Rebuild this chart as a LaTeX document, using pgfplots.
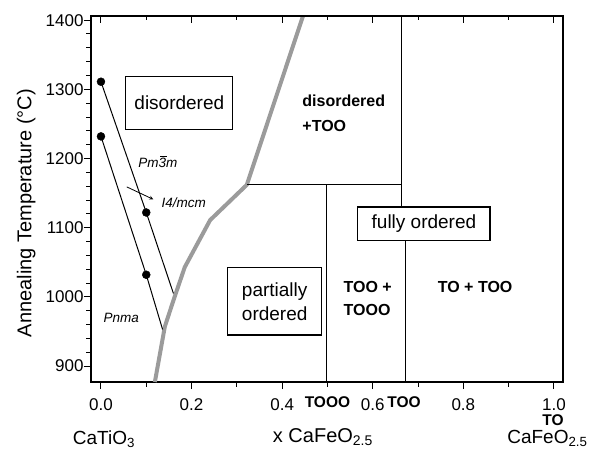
\documentclass[border=0pt]{standalone}
\usepackage{pgfplots}
\pgfplotsset{compat=1.18}
\usepackage{fontspec}
\setmainfont{Liberation Sans}
\definecolor{phasegray}{RGB}{155,155,155}
\newcommand{\fs}[1]{\fontsize{#1bp}{1.2\dimexpr#1bp\relax}\selectfont}
\newcommand{\barthree}{\rlap{\kern0.12em\raisebox{0.8em}{\rule{0.46em}{0.07em}}}3}
\begin{document}
\begin{tikzpicture}
\begin{axis}[
    scale only axis, width=472bp, height=366bp,
    xmin=-0.022, xmax=1.02, ymin=877, ymax=1406,
    clip=false,
    axis line style={line width=1.3bp},
    xtick={0,0.2,0.4,0.6,0.8,1.0},
    xticklabels={0.0,0.2,0.4,0.6,0.8,1.0},
    minor x tick num=1,
    ytick={900,1000,...,1400},
    minor y tick num=4,
    xtick pos=bottom, ytick pos=left,
    tick align=outside,
    major tick length=7bp, minor tick length=4.5bp,
    tick style={black, line width=1bp},
    tick label style={font=\fs{17}},
    /pgf/number format/assume math mode=true,
    /pgf/number format/1000 sep={},
    xticklabel style={yshift=-6bp},
    yticklabel style={xshift=3bp},
  ]
  \coordinate (sw) at (rel axis cs:0,0);
  \coordinate (ne) at (rel axis cs:1,1);

  % order-disorder boundary (grey)
  \addplot[color=phasegray, line width=4bp, line join=round] coordinates {
    (0.119,877) (0.141,957) (0.160,995) (0.185,1043)
    (0.241,1111) (0.322,1162) (0.446,1406)};

  % transition lines
  \addplot[black, line width=1bp] coordinates {(0,1311) (0.1,1122) (0.160,1005)};
  \addplot[black, line width=1bp] coordinates {(0,1232) (0.1,1032) (0.136,953)};
  \addplot[only marks, mark=*, mark size=4bp, black] coordinates {
    (0,1311) (0,1232) (0.1,1122) (0.1,1032)};
  \addplot[black, line width=0.8bp, -stealth] coordinates {(0.057,1159) (0.1155,1141)};

  % phase field boundaries
  \addplot[black, line width=1bp] coordinates {(0.322,1162) (0.664,1162)};
  \addplot[black, line width=1bp] coordinates {(0.664,1406) (0.664,1130)};
  \addplot[black, line width=1bp] coordinates {(0.673,1082) (0.673,877)};
  \addplot[black, line width=1bp] coordinates {(0.498,1162) (0.498,877)};

  % boxes
  \addplot[black, line width=1.2bp, line cap=rect] coordinates {
    (0.055,1318) (0.291,1318) (0.291,1242) (0.055,1242) (0.055,1318)};
  \addplot[black, line width=1.2bp, line cap=rect] coordinates {
    (0.280,1042) (0.487,1042) (0.487,945) (0.280,945) (0.280,1042)};
  \addplot[black, line width=1.2bp, line cap=rect] coordinates {
    (0.567,1130) (0.859,1130) (0.859,1082) (0.567,1082) (0.567,1130)};

  \node[font=\fs{19}] at (axis cs:0.173,1280) {disordered};
  \node[font=\fontsize{19bp}{24bp}\selectfont, align=center] at (axis cs:0.3835,993.5) {partially\\ordered};
  \node[font=\fs{19}] at (axis cs:0.713,1106) {fully ordered};

  \node[font=\bfseries\fontsize{16bp}{25bp}\selectfont, align=left, anchor=west] at (axis cs:0.437,1266) {disordered\\+TOO};
  \node[font=\bfseries\fontsize{16bp}{23bp}\selectfont, align=left, anchor=west] at (axis cs:0.528,997) {TOO +\\TOOO};
  \node[font=\bfseries\fs{16}] at (axis cs:0.826,1014) {TO + TOO};

  \node[font=\itshape\fs{13.5}, anchor=west] at (axis cs:0.075,1195) {Pm\barthree m};
  \node[font=\itshape\fs{13.5}, anchor=west] at (axis cs:0.126,1136) {I4/mcm};
  \node[font=\itshape\fs{13.5}, anchor=west] at (axis cs:-0.002,969) {Pnma};

  \node[font=\bfseries\fs{15.5}, yshift=-20bp] at (axis cs:0.5,877) {TOOO};
  \node[font=\bfseries\fs{15.5}, yshift=-20bp] at (axis cs:0.669,877) {TOO};
  \node[font=\bfseries\fs{15.5}, yshift=-38bp] at (axis cs:0.998,877) {TO};

  \node[font=\fs{19}, anchor=base, yshift=-62bp] at (axis cs:0.0066,877) {CaTiO\textsubscript{3}};
  \node[font=\fs{20}, anchor=base, yshift=-60bp] at (axis cs:0.49,877) {x CaFeO\textsubscript{2.5}};
  \node[font=\fs{19}, anchor=base, yshift=-61bp] at (axis cs:0.9856,877) {CaFeO\textsubscript{2.5}};

  \node[font=\fs{20}, rotate=90] at (axis cs:-0.165,1121) {Annealing Temperature (°C)};
\end{axis}
\begin{axis}[
    scale only axis, width=472bp, height=366bp,
    xmin=-0.022, xmax=1.02, ymin=877, ymax=1406,
    axis x line*=top, axis y line=none,
    xtick={0,0.2,0.4,0.6,0.8,1.0}, minor x tick num=1,
    xticklabels={},
    tick align=inside,
    major tick length=7bp, minor tick length=4.5bp,
    tick style={black, line width=1bp},
    axis line style={line width=1.3bp},
  ]
  \addplot[draw=none] coordinates {(0,900)};
\end{axis}
\pgfresetboundingbox
\path ([shift={(-91bp,-71bp)}]sw) rectangle ([shift={(29bp,16bp)}]ne);
\end{tikzpicture}
\end{document}
